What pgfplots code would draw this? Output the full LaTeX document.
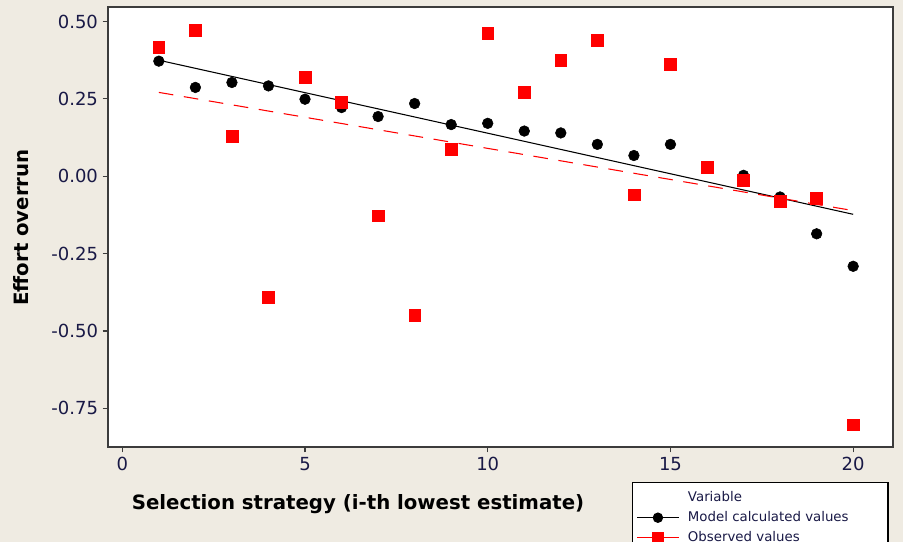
\documentclass[border=0pt]{standalone}
\usepackage{pgfplots}
\pgfplotsset{compat=1.18}
\usepackage{fontspec}
\setmainfont{DejaVu Sans}
\definecolor{bgc}{RGB}{239,235,226}
\definecolor{navy}{RGB}{25,25,70}
\definecolor{axc}{RGB}{60,60,60}
\definecolor{obsred}{RGB}{255,0,0}
\begin{document}
\begin{tikzpicture}
\useasboundingbox (0,0) rectangle (677.25pt,406.5pt);
\clip (0,0) rectangle (677.25pt,406.5pt);
\fill[bgc] (0,0) rectangle (677.25pt,406.5pt);
\begin{axis}[
  at={(81pt,71.25pt)}, anchor=south west,
  scale only axis, width=588.75pt, height=330pt,
  xmin=-0.391, xmax=21.09, ymin=-0.875, ymax=0.547,
  axis background/.style={fill=white},
  axis line style={axc, line width=1.2pt},
  xtick={0,5,10,15,20}, ytick={-0.75,-0.5,-0.25,0,0.25,0.5},
  tick align=outside, xtick pos=left, ytick pos=left,
  major tick length=4pt,
  tick style={axc, line width=0.9pt},
  /pgf/number format/assume math mode=true,
  yticklabel style={/pgf/number format/.cd, fixed, fixed zerofill, precision=2},
  ticklabel style={font=\fontsize{13.5}{16}\selectfont, text=navy},
  xlabel={Selection strategy (i-th lowest estimate)},
  ylabel={Effort overrun},
  label style={font=\fontsize{14.8}{17}\selectfont\bfseries, text=black},
  xlabel style={at={(axis description cs:0.3185,-0.1295)}, anchor=center},
  ylabel style={at={(axis description cs:-0.111,0.499)}, anchor=center, rotate=0},
  legend style={at={(axis description cs:0.6675,-0.0795)}, anchor=north west,
    draw=black, line width=0.8pt, fill=white, font=\fontsize{10}{12}\selectfont, text=navy,
    legend cell align=left, inner xsep=3pt, inner ysep=5pt, row sep=1.75pt},
  legend image code/.code={\draw[mark repeat=2,mark phase=2] plot coordinates {(0cm,0cm) (0.55cm,0cm) (1.1cm,0cm)};},
  clip=false,
]
% fitted lines
\addplot[black, line width=0.8pt, forget plot] coordinates {(1,0.375) (20,-0.123)};
\addplot[obsred, line width=0.8pt, dash pattern=on 11pt off 8pt, forget plot] coordinates {(1,0.271) (20,-0.111)};
% model calculated values
\addplot[only marks, mark=*, mark size=4pt, black, forget plot] coordinates {
(1,0.372) (2,0.287) (3,0.303) (4,0.292) (5,0.249) (6,0.222) (7,0.193) (8,0.235) (9,0.167) (10,0.171)
(11,0.146) (12,0.140) (13,0.103) (14,0.067) (15,0.103) (16,0.030) (17,0.003) (18,-0.067) (19,-0.186) (20,-0.291)};
% observed values
\addplot[only marks, mark=square*, mark size=4.4pt, obsred, forget plot] coordinates {
(1,0.418) (2,0.472) (3,0.129) (4,-0.392) (5,0.319) (6,0.240) (7,-0.128) (8,-0.450) (9,0.087) (10,0.462)
(11,0.271) (12,0.376) (13,0.440) (14,-0.060) (15,0.361) (16,0.030) (17,-0.013) (18,-0.081) (19,-0.070) (20,-0.803)};
\addlegendimage{empty legend}
\addlegendentry{\hspace*{4.5pt}\makebox[145pt][l]{Variable}}
\addlegendimage{black, line width=0.8pt, mark=*, mark size=3.5pt}
\addlegendentry{\hspace*{4.5pt}\makebox[145pt][l]{Model calculated values}}
\addlegendimage{obsred, line width=0.8pt, mark=square*, mark size=3.8pt}
\addlegendentry{\hspace*{4.5pt}\makebox[145pt][l]{Observed values}}
\end{axis}
\end{tikzpicture}
\end{document}
